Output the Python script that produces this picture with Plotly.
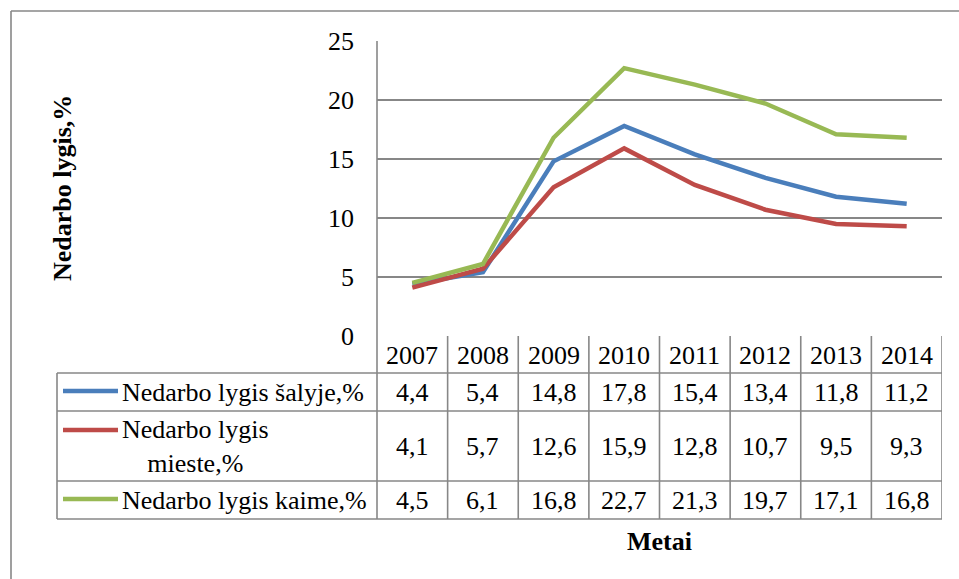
import plotly.graph_objects as go

# ---- data ----
years = ["2007", "2008", "2009", "2010", "2011", "2012", "2013", "2014"]
salyje = [4.4, 5.4, 14.8, 17.8, 15.4, 13.4, 11.8, 11.2]
mieste = [4.1, 5.7, 12.6, 15.9, 12.8, 10.7, 9.5, 9.3]
kaime = [4.5, 6.1, 16.8, 22.7, 21.3, 19.7, 17.1, 16.8]
series_names = ["Nedarbo lygis šalyje,%", "Nedarbo lygis<br>mieste,%", "Nedarbo lygis kaime,%"]
y_ticks = [0, 5, 10, 15, 20, 25]
y_title = "Nedarbo lygis,%"
x_title = "Metai"

# ---- style ----
W, H = 959, 579
colors = ["#4A7EBB", "#BE4B48", "#98B954"]
GRAY = "#878787"
FONT = "Liberation Serif, Times New Roman, serif"
FS = 26

def fx(x):
    return x / W

def fy(y):
    return 1 - y / H

def fmt(v):
    return f"{v:.1f}".replace(".", ",")

PLOT_L, PLOT_R, PLOT_T, PLOT_B = 377, 942, 41, 336
LEG_L = 57
row_edges = [336, 373, 411, 481, 519]
row_centers = [392, 446, 500]
legend_line_y = [391, 430, 499]

series = [salyje, mieste, kaime]

fig = go.Figure()
for name, vals, col in zip(series_names, series, colors):
    fig.add_trace(go.Scatter(
        x=list(range(len(years))), y=vals, mode="lines", name=name.replace("<br>", " "),
        line=dict(color=col, width=4.5), showlegend=False, hoverinfo="skip",
    ))

shapes = []
annotations = []
txtfont = dict(family=FONT, size=FS, color="black")

def line(x0, y0, x1, y1, xref="paper", w=1.6, color=GRAY):
    shapes.append(dict(type="line", xref=xref, yref="paper",
                       x0=x0, y0=fy(y0), x1=x1, y1=fy(y1),
                       line=dict(color=color, width=w), layer="below"))

# outer chart border (clipped on right/bottom)
line(fx(11), 11, fx(11), 579)
line(fx(11), 11, fx(959), 11)

# plot-area left edge extended through the table
line(fx(PLOT_L), PLOT_T, fx(PLOT_L), row_edges[-1])
# table horizontals
for y in row_edges[1:]:
    line(fx(LEG_L), y, fx(PLOT_R), y)
# legend column left edge
line(fx(LEG_L), row_edges[1], fx(LEG_L), row_edges[-1])
# column separators (through axis scale)
for k in range(len(years)):
    line(k + 0.5, row_edges[0], k + 0.5, row_edges[-1], xref="x")

def ann(x, y, text, xref="paper", xanchor="center", **kw):
    annotations.append(dict(x=x, xref=xref, y=y, yref="paper", text=text, showarrow=False,
                            xanchor=xanchor, yanchor="middle", font=txtfont, **kw))

# header years
for k, yr in enumerate(years):
    ann(k, fy((row_edges[0] + row_edges[1]) / 2 + 1), yr, xref="x")
# values
for vals, yc in zip(series, row_centers):
    for k, v in enumerate(vals):
        ann(k, fy(yc), fmt(v), xref="x")
# legend keys
for name, col, ly, yc in zip(series_names, colors, legend_line_y, row_centers):
    shapes.append(dict(type="line", xref="paper", yref="paper", x0=fx(63), x1=fx(118),
                       y0=fy(ly), y1=fy(ly), line=dict(color=col, width=4.5)))
    ann(fx(120), fy(yc), name, xanchor="left", align="center")

# titles
ann(fx(63), fy(188), f"<b>{y_title}</b>", textangle=-90)
ann(fx(659), fy(541), f"<b>{x_title}</b>")

fig.update_layout(
    width=W, height=H, margin=dict(l=0, r=0, t=0, b=0, pad=0, autoexpand=False),
    paper_bgcolor="white", plot_bgcolor="white",
    shapes=shapes, annotations=annotations,
    xaxis=dict(domain=[fx(PLOT_L), fx(PLOT_R)], range=[-0.5, len(years) - 0.5],
               showticklabels=False, showgrid=False, zeroline=False, showline=False,
               automargin=False),
    yaxis=dict(domain=[fy(PLOT_B), fy(PLOT_T)], range=[0, 25], tickvals=y_ticks,
               showgrid=True, gridcolor=GRAY, gridwidth=1.6, zeroline=False,
               showline=False, ticks="", ticklabelstandoff=22, automargin=False,
               tickfont=txtfont),
)

fig.write_html("out.html", config={"displayModeBar": False},
               post_script="document.body.style.margin='0';")
